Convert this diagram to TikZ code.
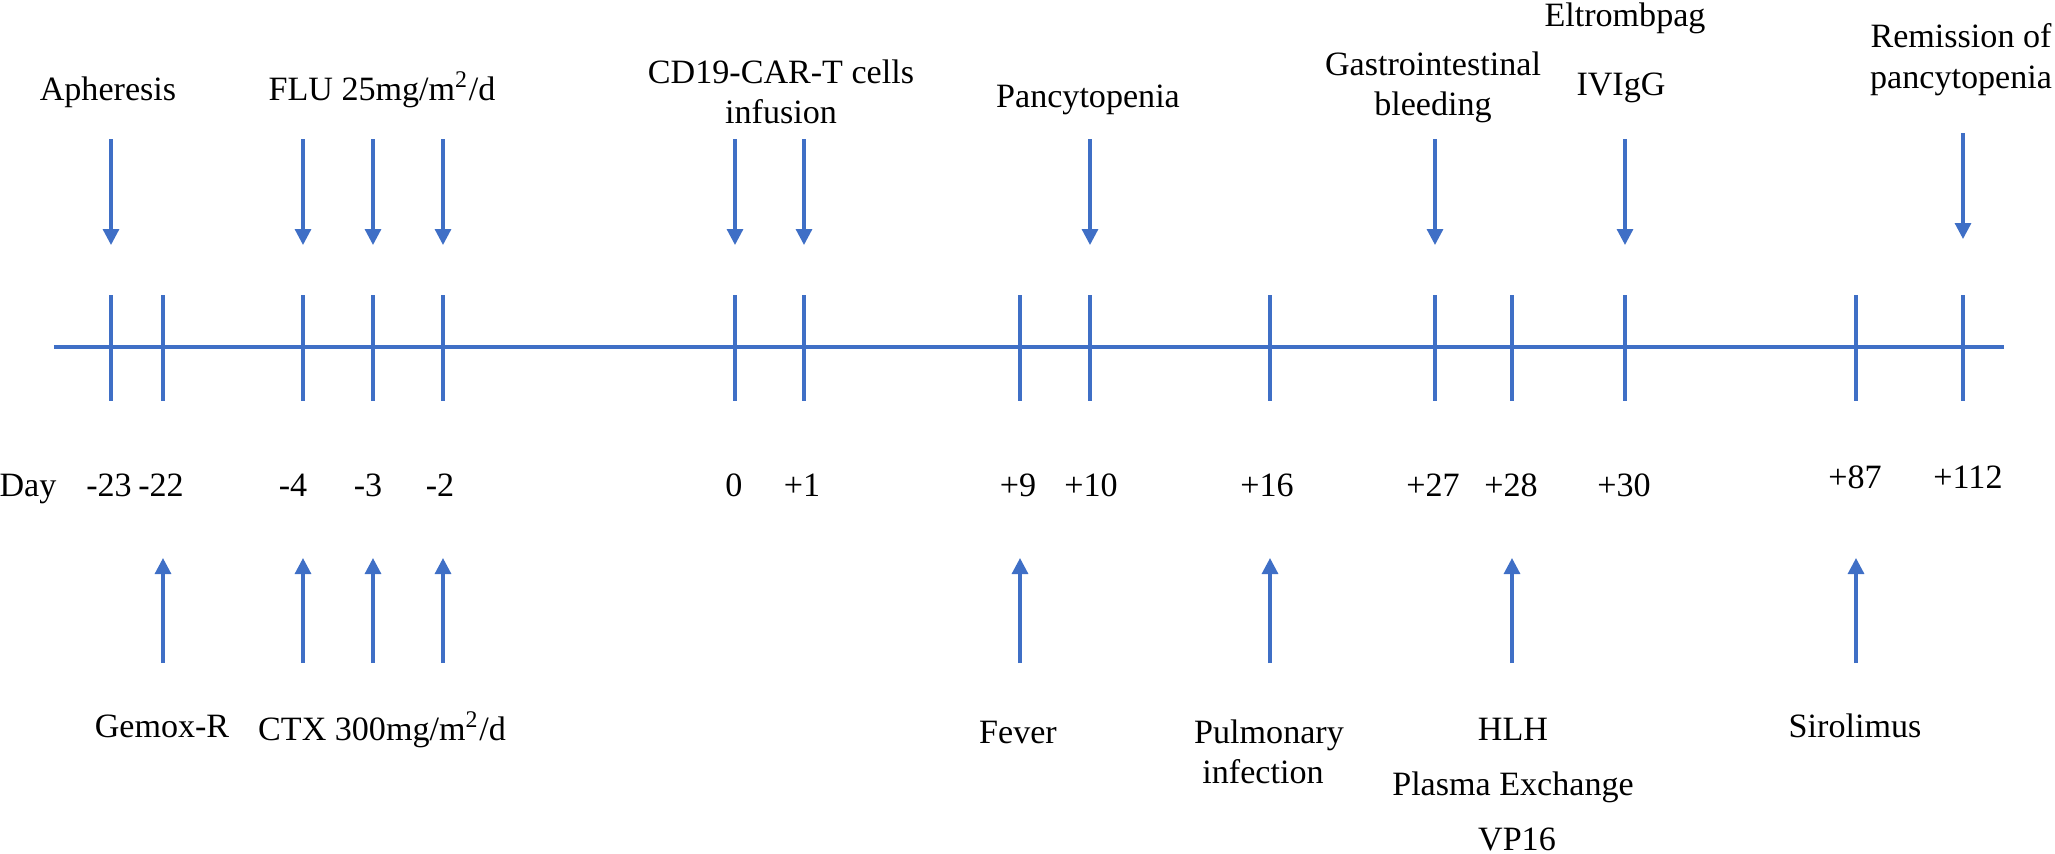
\documentclass[tikz,border=0pt]{standalone}
\usepackage{fontspec}
\setmainfont{LiberationSerif}[Extension=.ttf,UprightFont=*-Regular,BoldFont=*-Bold,ItalicFont=*-Italic]
\usetikzlibrary{arrows.meta}

\definecolor{lineblue}{HTML}{3F6FC6}

\begin{document}
\begin{tikzpicture}[
		axisline/.style={lineblue,line width=1.4pt},
		tickline/.style={lineblue,line width=1.0pt},
		evarrow/.style={lineblue,line width=0.9pt,-{Triangle[width=0.16cm,length=0.16cm]}},
		lbl/.style={font=\fontsize{9.7}{11.4}\selectfont,inner sep=0pt,anchor=base}
	]
		\useasboundingbox (0,0) rectangle (20.55,-8.53);

		\coordinate (start) at (0.54,-3.47);
		\coordinate (end) at (20.04,-3.47);
		\draw[axisline] (start) -- (end);

		\coordinate (dm23) at (1.11,-3.47);
		\coordinate (dm22) at (1.63,-3.47);
		\coordinate (dm4) at (3.03,-3.47);
		\coordinate (dm3) at (3.73,-3.47);
		\coordinate (dm2) at (4.43,-3.47);
		\coordinate (d0) at (7.35,-3.47);
		\coordinate (dp1) at (8.04,-3.47);
		\coordinate (dp9) at (10.20,-3.47);
		\coordinate (dp10) at (10.90,-3.47);
		\coordinate (dp16) at (12.70,-3.47);
		\coordinate (dp27) at (14.35,-3.47);
		\coordinate (dp28) at (15.12,-3.47);
		\coordinate (dp30) at (16.25,-3.47);
		\coordinate (dp87) at (18.56,-3.47);
		\coordinate (dp112) at (19.63,-3.47);

		\draw[tickline] ([yshift=0.52cm]dm23) -- ([yshift=-0.54cm]dm23);
		\draw[tickline] ([yshift=0.52cm]dm22) -- ([yshift=-0.54cm]dm22);
		\draw[tickline] ([yshift=0.52cm]dm4) -- ([yshift=-0.54cm]dm4);
		\draw[tickline] ([yshift=0.52cm]dm3) -- ([yshift=-0.54cm]dm3);
		\draw[tickline] ([yshift=0.52cm]dm2) -- ([yshift=-0.54cm]dm2);
		\draw[tickline] ([yshift=0.52cm]d0) -- ([yshift=-0.54cm]d0);
		\draw[tickline] ([yshift=0.52cm]dp1) -- ([yshift=-0.54cm]dp1);
		\draw[tickline] ([yshift=0.52cm]dp9) -- ([yshift=-0.54cm]dp9);
		\draw[tickline] ([yshift=0.52cm]dp10) -- ([yshift=-0.54cm]dp10);
		\draw[tickline] ([yshift=0.52cm]dp16) -- ([yshift=-0.54cm]dp16);
		\draw[tickline] ([yshift=0.52cm]dp27) -- ([yshift=-0.54cm]dp27);
		\draw[tickline] ([yshift=0.52cm]dp28) -- ([yshift=-0.54cm]dp28);
		\draw[tickline] ([yshift=0.52cm]dp30) -- ([yshift=-0.54cm]dp30);
		\draw[tickline] ([yshift=0.52cm]dp87) -- ([yshift=-0.54cm]dp87);
		\draw[tickline] ([yshift=0.52cm]dp112) -- ([yshift=-0.54cm]dp112);

		\draw[evarrow] ([yshift=2.08cm]dm23) -- ([yshift=1.02cm]dm23);
		\draw[evarrow] ([yshift=2.08cm]dm4) -- ([yshift=1.02cm]dm4);
		\draw[evarrow] ([yshift=2.08cm]dm3) -- ([yshift=1.02cm]dm3);
		\draw[evarrow] ([yshift=2.08cm]dm2) -- ([yshift=1.02cm]dm2);
		\draw[evarrow] ([yshift=2.08cm]d0) -- ([yshift=1.02cm]d0);
		\draw[evarrow] ([yshift=2.08cm]dp1) -- ([yshift=1.02cm]dp1);
		\draw[evarrow] ([yshift=2.08cm]dp10) -- ([yshift=1.02cm]dp10);
		\draw[evarrow] ([yshift=2.08cm]dp27) -- ([yshift=1.02cm]dp27);
		\draw[evarrow] ([yshift=2.08cm]dp30) -- ([yshift=1.02cm]dp30);
		\draw[evarrow] ([yshift=2.14cm]dp112) -- ([yshift=1.08cm]dp112);

		\draw[evarrow] ([yshift=-3.16cm]dm22) -- ([yshift=-2.11cm]dm22);
		\draw[evarrow] ([yshift=-3.16cm]dm4) -- ([yshift=-2.11cm]dm4);
		\draw[evarrow] ([yshift=-3.16cm]dm3) -- ([yshift=-2.11cm]dm3);
		\draw[evarrow] ([yshift=-3.16cm]dm2) -- ([yshift=-2.11cm]dm2);
		\draw[evarrow] ([yshift=-3.16cm]dp9) -- ([yshift=-2.11cm]dp9);
		\draw[evarrow] ([yshift=-3.16cm]dp16) -- ([yshift=-2.11cm]dp16);
		\draw[evarrow] ([yshift=-3.16cm]dp28) -- ([yshift=-2.11cm]dp28);
		\draw[evarrow] ([yshift=-3.16cm]dp87) -- ([yshift=-2.11cm]dp87);

		\node[lbl] (apheresis) at (1.08,-1.00) {Apheresis};
		\node[lbl] (flu) at (3.82,-1.00) {FLU 25mg/m\textsuperscript{2}/d};
		\node[lbl] (cart) at (7.81,-0.83) {CD19-CAR-T cells};
		\node[lbl] (cart2) at (7.81,-1.23) {infusion};
		\node[lbl] (pancyt) at (10.88,-1.07) {Pancytopenia};
		\node[lbl] (gib) at (14.33,-0.75) {Gastrointestinal};
		\node[lbl] (gib2) at (14.33,-1.15) {bleeding};
		\node[lbl] (eltro) at (16.25,-0.26) {Eltrombpag};
		\node[lbl] (ivig) at (16.21,-0.95) {IVIgG};
		\node[lbl] (remission) at (19.61,-0.47) {Remission of};
		\node[lbl] (remission2) at (19.61,-0.88) {pancytopenia};

		\node[lbl] (day) at (0.28,-4.96) {Day};
		\node[lbl] (lm23) at (1.09,-4.96) {-23};
		\node[lbl] (lm22) at (1.61,-4.96) {-22};
		\node[lbl] (lm4) at (2.93,-4.96) {-4};
		\node[lbl] (lm3) at (3.68,-4.96) {-3};
		\node[lbl] (lm2) at (4.40,-4.96) {-2};
		\node[lbl] (l0) at (7.34,-4.96) {0};
		\node[lbl] (lp1) at (8.02,-4.96) {+1};
		\node[lbl] (lp9) at (10.18,-4.96) {+9};
		\node[lbl] (lp10) at (10.91,-4.96) {+10};
		\node[lbl] (lp16) at (12.67,-4.96) {+16};
		\node[lbl] (lp27) at (14.33,-4.96) {+27};
		\node[lbl] (lp28) at (15.11,-4.96) {+28};
		\node[lbl] (lp30) at (16.24,-4.96) {+30};
		\node[lbl] (lp87) at (18.55,-4.88) {+87};
		\node[lbl] (lp112) at (19.68,-4.88) {+112};

		\node[lbl] (gemox) at (1.62,-7.37) {Gemox-R};
		\node[lbl] (ctx) at (3.82,-7.40) {CTX 300mg/m\textsuperscript{2}/d};
		\node[lbl] (fever) at (10.18,-7.43) {Fever};
		\node[lbl] (pulm) at (12.69,-7.43) {Pulmonary};
		\node[lbl] (pulm2) at (12.63,-7.83) {infection};
		\node[lbl] (hlh) at (15.13,-7.40) {HLH};
		\node[lbl] (plasma) at (15.13,-7.95) {Plasma Exchange};
		\node[lbl] (vp16) at (15.17,-8.50) {VP16};
		\node[lbl] (sirolimus) at (18.55,-7.37) {Sirolimus};
	\end{tikzpicture}
\end{document}
